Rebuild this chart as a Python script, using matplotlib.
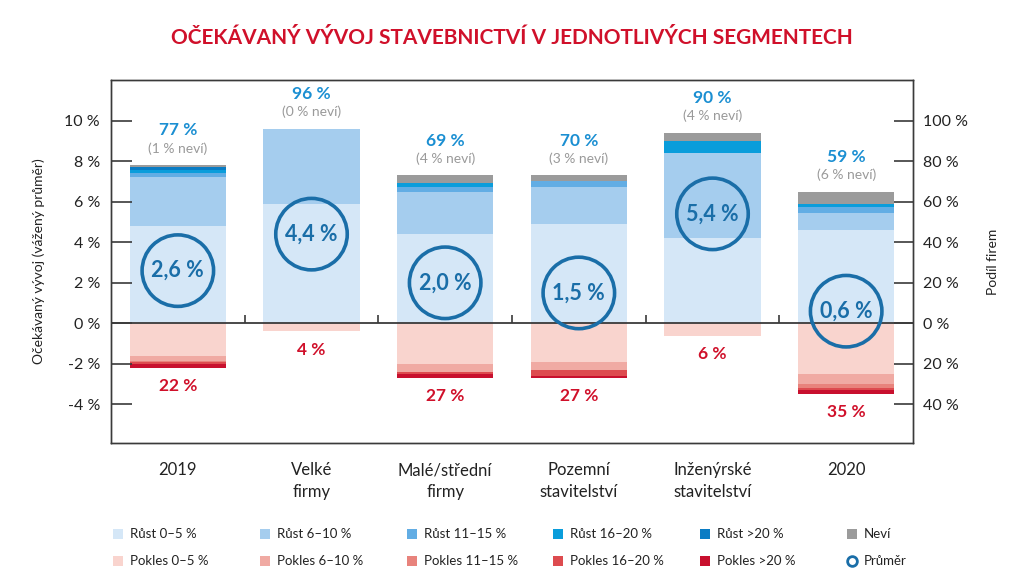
import numpy as np
import matplotlib.pyplot as plt
from matplotlib.lines import Line2D

plt.rcParams['font.family'] = ['Lato', 'DejaVu Sans']

categories = ["2019", "Velké\nfirmy", "Malé/střední\nfirmy", "Pozemní\nstavitelství",
              "Inženýrské\nstavitelství", "2020"]

# share of firms (%) by expected change
rust_0_5 = [48, 59, 44, 49, 42, 46]
rust_6_10 = [24, 37, 21, 18, 42, 8.5]
rust_11_15 = [2, 0, 2, 3, 0, 3]
rust_16_20 = [1.5, 0, 2, 0, 6, 1.5]
rust_20 = [1.5, 0, 0, 0, 0, 0]
nevi = [1, 0, 4, 3, 4, 6]

pokles_0_5 = [16, 4, 20, 19, 6, 25]
pokles_6_10 = [2.5, 0, 4, 4, 0, 5]
pokles_11_15 = [0.5, 0, 0, 0, 0, 2]
pokles_16_20 = [1, 0, 1, 3, 0, 1]
pokles_20 = [2, 0, 2, 1, 0, 2]

rust_total = [77, 96, 69, 70, 90, 59]
pokles_total = [22, 4, 27, 27, 6, 35]
prumer = [2.6, 4.4, 2.0, 1.5, 5.4, 0.6]

left_ticks = [-4, -2, 0, 2, 4, 6, 8, 10]
right_ticks = [-40, -20, 0, 20, 40, 60, 80, 100]

up_series = [("Růst 0–5 %", rust_0_5, "#d5e7f7"),
             ("Růst 6–10 %", rust_6_10, "#a5cdee"),
             ("Růst 11–15 %", rust_11_15, "#62ade4"),
             ("Růst 16–20 %", rust_16_20, "#0a9ddb"),
             ("Růst >20 %", rust_20, "#0a7cc4"),
             ("Neví", nevi, "#9b9b9b")]
down_series = [("Pokles 0–5 %", pokles_0_5, "#f9d4ce"),
               ("Pokles 6–10 %", pokles_6_10, "#f0aaa3"),
               ("Pokles 11–15 %", pokles_11_15, "#e8837c"),
               ("Pokles 16–20 %", pokles_16_20, "#dd4b4f"),
               ("Pokles >20 %", pokles_20, "#c8102e")]

blue = "#1b8fd2"
dark_blue = "#1a6ea8"
red = "#d0102a"
frame = "#3a3a3a"

fig = plt.figure(figsize=(10.24, 5.87), dpi=100)
ax = fig.add_axes([0.1084, 0.2453, 0.7832, 0.6184])
ax2 = ax.twinx()
ax.set_zorder(ax2.get_zorder() + 1)
ax.patch.set_visible(False)

x = np.arange(len(categories))
w = 0.72

bottom = np.zeros(len(x))
for name, vals, col in up_series:
    ax2.bar(x, vals, w, bottom=bottom, color=col, linewidth=0)
    bottom += np.array(vals)
tops = bottom.copy()

bottom = np.zeros(len(x))
for name, vals, col in down_series:
    ax2.bar(x, -np.array(vals), w, bottom=bottom, color=col, linewidth=0)
    bottom -= np.array(vals)

ax2.axhline(0, color=frame, lw=1.3)
ax2.vlines(x[:-1] + 0.5, 0, 4, color=frame, lw=1.2)

for i in x:
    ax2.annotate(f"{rust_total[i]} %", (i, tops[i]), xytext=(0, 25), textcoords="offset points",
                 ha="center", va="center", color=blue, fontsize=12.5, fontweight="bold")
    ax2.annotate(f"({nevi[i]} % neví)", (i, tops[i]), xytext=(0, 12), textcoords="offset points",
                 ha="center", va="center", color="#9a9a9a", fontsize=10)
    ax2.annotate(f"{pokles_total[i]} %", (i, -pokles_total[i]), xytext=(0, -13),
                 textcoords="offset points", ha="center", va="center", color=red,
                 fontsize=12.5, fontweight="bold")

ax.scatter(x, prumer, s=2650, facecolors="none", edgecolors=dark_blue, linewidths=2.6, zorder=5)
for i in x:
    ax.text(i, prumer[i], f"{prumer[i]:.1f} %".replace(".", ","), ha="center", va="center",
            color=dark_blue, fontsize=15.5, fontweight="bold", zorder=6)

ax.set_xlim(-0.5, len(x) - 0.5)
ax.set_ylim(-5.9, 12.0)
ax2.set_ylim(-59, 120)

ax.set_xticks(x)
ax.set_xticklabels(categories, fontsize=12, color="#222222", linespacing=1.45)
ax.tick_params(axis="x", length=0, pad=14)

ax.set_yticks(left_ticks)
ax.set_yticklabels([f"{t} %" for t in left_ticks], fontsize=11.5, color="#222222")
ax.tick_params(axis="y", direction="in", length=15, width=1.2, color=frame, pad=8)
ax2.set_yticks(right_ticks)
ax2.set_yticklabels([f"{abs(t)} %" for t in right_ticks], fontsize=11.5, color="#222222")
ax2.tick_params(axis="y", direction="in", length=14, width=1.2, color=frame, pad=7)

for a in (ax, ax2):
    for s in a.spines.values():
        s.set_color(frame)
        s.set_linewidth(1.0)

ax.set_ylabel("Očekávaný vývoj (vážený průměr)", fontsize=10, color="#222222", labelpad=14)
ax2.set_ylabel("Podíl firem", fontsize=10, color="#222222", labelpad=14)

fig.text(0.5, 0.935, "OČEKÁVANÝ VÝVOJ STAVEBNICTVÍ V JEDNOTLIVÝCH SEGMENTECH",
         ha="center", va="center", color=red, fontsize=15, fontweight="bold")

# legend laid out in a 6x2 grid
col_x = [118, 265, 412, 558, 705, 852]
row_y = [534, 561]
legend_items = [[(n, c) for n, v, c in up_series], [(n, c) for n, v, c in down_series] + [("Průměr", None)]]
for r, items in enumerate(legend_items):
    for cidx, (name, col) in enumerate(items):
        fx = col_x[cidx] / 1024
        fy = 1 - row_y[r] / 587
        if col is None:
            m = Line2D([fx], [fy], transform=fig.transFigure, marker="o", markersize=7,
                       markerfacecolor="white", markeredgecolor=dark_blue, markeredgewidth=2, linestyle="")
        else:
            m = Line2D([fx], [fy], transform=fig.transFigure, marker="s", markersize=7,
                       markerfacecolor=col, markeredgewidth=0, linestyle="")
        fig.add_artist(m)
        fig.text(fx + 12 / 1024, fy, name, ha="left", va="center", fontsize=9.5, color="#222222")

fig.savefig("out.png", dpi=100)
